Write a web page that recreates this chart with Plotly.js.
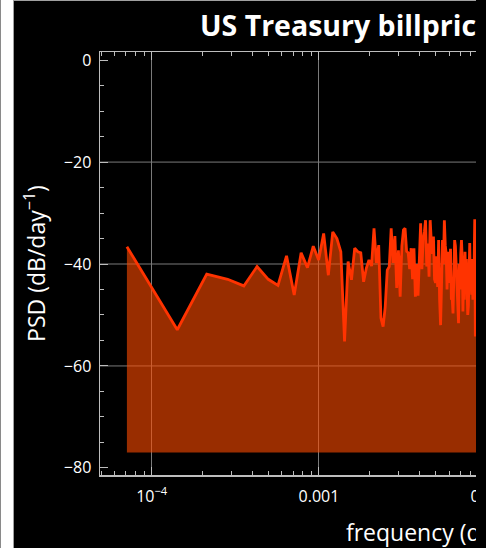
<!DOCTYPE html>
<html><head><meta charset="utf-8">
<script src="https://cdn.plot.ly/plotly-3.0.1.min.js"></script>
<style>
html,body{margin:0;padding:0;width:486px;height:548px;overflow:hidden;background:#fff;}
#edge{position:absolute;left:0;top:0;width:1px;height:548px;background:#8a8a8a;}
#frame{position:absolute;left:13px;top:0;width:473px;height:548px;background:#000;border-left:1px solid #a0a0a0;border-top:1px solid #a0a0a0;box-sizing:border-box;overflow:hidden;}
#chart{position:absolute;left:0;top:0;}
#cut{position:absolute;left:476px;top:0;width:10px;height:548px;background:#000;}
</style></head>
<body>
<div id="edge"></div>
<div id="frame"><div id="chart"></div></div>
<div id="cut"></div>
<script>
// frequency (day^-1)
const freqs = [7.11e-5,14.22e-5,21.33e-5,28.44e-5,35.55e-5,42.66e-5,49.77e-5,56.88e-5,63.99e-5,71.1e-5,
78.21e-5,85.32e-5,92.43e-5,99.54e-5,106.65e-5,113.76e-5,120.87e-5,127.98e-5,135.09e-5,142.2e-5,
149.31e-5,156.42e-5,163.53e-5,170.64e-5,177.75e-5,184.86e-5,191.97e-5,199.08e-5,206.19e-5,213.3e-5,
220.41e-5,227.52e-5,234.63e-5,241.74e-5,248.85e-5,255.96e-5,263.07e-5,270.18e-5,277.29e-5,284.4e-5,
291.51e-5,298.62e-5,305.73e-5,312.84e-5,319.95e-5,327.06e-5,334.17e-5,341.28e-5,348.39e-5,355.5e-5,
362.61e-5,369.72e-5,376.83e-5,383.94e-5,391.05e-5,398.16e-5,405.27e-5,412.38e-5,419.49e-5,426.6e-5,
433.71e-5,440.82e-5,447.93e-5,455.04e-5,462.15e-5,469.26e-5,476.37e-5,483.48e-5,490.59e-5,497.7e-5,
504.81e-5,511.92e-5,519.03e-5,526.14e-5,533.25e-5,540.36e-5,547.47e-5,554.58e-5,561.69e-5,568.8e-5,
575.91e-5,583.02e-5,590.13e-5,597.24e-5,604.35e-5,611.46e-5,618.57e-5,625.68e-5,632.79e-5,639.9e-5,
647.01e-5,654.12e-5,661.23e-5,668.34e-5,675.45e-5,682.56e-5,689.67e-5,696.78e-5,703.89e-5,711e-5,
718.11e-5,725.22e-5,732.33e-5,739.44e-5,746.55e-5,753.66e-5,760.77e-5,767.88e-5,774.99e-5,782.1e-5,
789.21e-5,796.32e-5,803.43e-5,810.54e-5,817.65e-5,824.76e-5,831.87e-5,838.98e-5,846.09e-5,853.2e-5,
860.31e-5,867.42e-5,874.53e-5,881.64e-5,888.75e-5,895.86e-5,902.97e-5,910.08e-5,917.19e-5,924.3e-5];
// PSD (dB/day^-1)
const psd = [-36.6,-52.9,-42.0,-43.0,-44.3,-40.5,-43.0,-44.2,-38.4,-46.1,
-37.8,-40.7,-36.5,-39.2,-34.0,-42.2,-33.7,-35.0,-37.6,-55.2,
-39.5,-43.1,-36.9,-37.6,-37.8,-43.5,-40.8,-39.2,-40.4,-33.0,
-39.8,-36.3,-50.6,-52.3,-48.4,-41.2,-40.5,-33.0,-39.8,-34.5,
-44.7,-37.3,-46.4,-36.5,-33.3,-33.0,-37.5,-37.8,-41.0,-36.9,
-43.0,-36.9,-46.4,-40.0,-46.2,-38.0,-32.0,-41.0,-35.3,-33.7,
-31.4,-40.5,-36.0,-42.5,-31.4,-35.6,-38.0,-34.6,-43.0,-43.7,
-38.5,-44.5,-35.3,-47.0,-52.0,-44.0,-35.3,-40.0,-31.4,-36.3,
-38.0,-45.0,-37.6,-43.7,-40.4,-37.0,-47.0,-46.7,-49.7,-42.0,
-35.3,-36.5,-40.8,-44.0,-46.0,-51.6,-40.0,-45.0,-38.0,-35.3,
-38.8,-49.3,-41.0,-47.0,-37.6,-44.0,-39.0,-46.0,-50.0,-48.2,
-38.0,-35.9,-44.0,-42.0,-46.0,-39.0,-47.0,-44.0,-40.0,-31.2,
-54.2,-45.0,-38.0,-47.0,-35.0,-41.0,-44.0,-37.0,-49.0,-33.5];
const floorDb = -77;
const xTickVals = [1e-4, 1e-3, 1e-2, 1e-1];
const xTickText = ['10<sup>−4</sup>', '0.001', '0.01', '0.1'];
const xMinorVals = [5e-5,6e-5,7e-5,8e-5,9e-5,2e-4,3e-4,4e-4,5e-4,6e-4,7e-4,8e-4,9e-4,
  2e-3,3e-3,4e-3,5e-3,6e-3,7e-3,8e-3,9e-3,2e-2,3e-2,4e-2,5e-2,6e-2,7e-2,8e-2,9e-2,2e-1,3e-1,4e-1,5e-1];
const yTickVals = [0, -20, -40, -60, -80];
const yGridVals = [-20, -40, -60];

const axCol = '#bdbdbd';
const gridCol = '#7a7a7a';
const font = 'Open Sans, DejaVu Sans, sans-serif';
const W = 782;

const traces = [
  {x: [freqs[0], freqs[freqs.length - 1]], y: [floorDb, floorDb], mode: 'lines',
   line: {width: 0, color: 'rgba(0,0,0,0)'}, hoverinfo: 'skip', showlegend: false},
  {x: freqs, y: psd, mode: 'lines', fill: 'tonexty', fillcolor: 'rgba(255,75,0,0.6)',
   line: {color: '#ff3300', width: 2.8}, showlegend: false}
];

const shapes = yGridVals.map(v => ({type: 'line', xref: 'paper', x0: 0, x1: 1, yref: 'y', y0: v, y1: v,
  line: {color: gridCol, width: 1}, layer: 'below'}));

const layout = {
  width: W, height: 547,
  margin: {l: 86, r: 20, t: 51, b: 73},
  paper_bgcolor: '#000', plot_bgcolor: '#000',
  font: {family: font, color: '#fff'},
  title: {text: 'US Treasury billprice', font: {family: font, size: 28.5, color: '#fff', weight: 'bold'},
    xref: 'container', x: 186/W, xanchor: 'left', yref: 'container', y: 0.954, yanchor: 'middle'},
  xaxis: {type: 'log', range: [-4.309, -0.268], tickmode: 'array', tickvals: xTickVals, ticktext: xTickText,
    ticks: 'inside', ticklen: 8, tickcolor: axCol, tickwidth: 1,
    showline: true, linecolor: axCol, linewidth: 1.5, mirror: 'allticks',
    showgrid: true, gridcolor: gridCol, gridwidth: 1, zeroline: false,
    tickfont: {family: font, size: 16, color: '#fff'}, ticklabelstandoff: 6,
    minor: {tickmode: 'array', tickvals: xMinorVals, ticks: 'inside', ticklen: 4, tickcolor: axCol, showgrid: false},
    title: {text: 'frequency (day<sup>−1</sup>)', font: {family: font, size: 23, color: '#fff'}, standoff: 19}},
  yaxis: {range: [-81.4, 1.6], tickmode: 'array', tickvals: yTickVals,
    ticks: 'inside', ticklen: 8, tickcolor: axCol, tickwidth: 1,
    showline: true, linecolor: axCol, linewidth: 1.5, mirror: 'allticks',
    showgrid: false, zeroline: false,
    tickfont: {family: font, size: 16, color: '#fff'}, ticklabelstandoff: 4,
    minor: {dtick: 5, ticks: 'inside', ticklen: 4, tickcolor: axCol, showgrid: false},
    title: {text: 'PSD (dB/day<sup>−1</sup>)', font: {family: font, size: 23, color: '#fff'}, standoff: 12}},
  shapes: shapes
};

Plotly.newPlot('chart', traces, layout, {staticPlot: true, displayModeBar: false});
</script>
</body></html>
